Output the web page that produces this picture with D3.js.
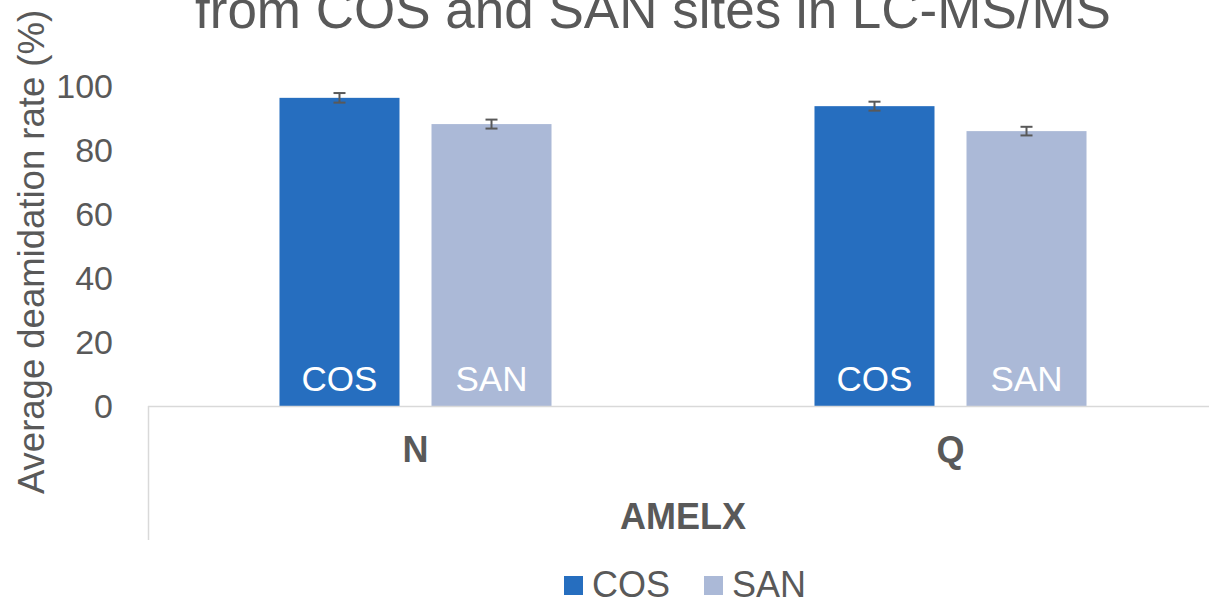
<!DOCTYPE html>
<html>
<head>
<meta charset="utf-8">
<script src="https://cdn.jsdelivr.net/npm/d3@7"></script>
<style>
  body { margin: 0; background: #fff; }
  svg text { font-family: "Liberation Sans", Arial, sans-serif; fill: #595959; }
</style>
</head>
<body>
<div id="chart"></div>
<script>
// data
const categories = ["N", "Q"];
const series = ["COS", "SAN"];
const cosValues = [96.3, 93.7];
const sanValues = [88.1, 85.9];
const cosErrors = [1.5, 1.4];
const sanErrors = [1.4, 1.35];
const yTicks = [0, 20, 40, 60, 80, 100];
const colors = { COS: "#266ebf", SAN: "#abb9d7" };

const width = 1209, height = 603;

const svg = d3.select("#chart")
  .append("svg")
  .attr("width", width)
  .attr("height", height);

// scales
const x0 = d3.scaleBand()
  .domain(categories)
  .range([148, 1218]);

const x1 = d3.scaleBand()
  .domain(series)
  .range([0, x0.bandwidth()])
  .paddingInner(32 / 152)
  .paddingOuter(0.865);

const y = d3.scaleLinear()
  .domain([0, 100])
  .range([406, 86]);

// title (partly cut off at the top)
svg.append("text")
  .attr("x", 653)
  .attr("y", 28)
  .attr("text-anchor", "middle")
  .style("font-size", "53px")
  .text("from COS and SAN sites in LC-MS/MS");

// y tick labels
svg.append("g")
  .selectAll("text")
  .data(yTicks)
  .join("text")
  .attr("x", 113)
  .attr("y", d => y(d))
  .attr("dy", "0.35em")
  .attr("text-anchor", "end")
  .style("font-size", "34px")
  .text(d => d);

// y axis title
svg.append("text")
  .attr("transform", "translate(44,252) rotate(-90)")
  .attr("text-anchor", "middle")
  .style("font-size", "36.5px")
  .text("Average deamidation rate (%)");

// bars
const rows = categories.map((c, i) => ({
  cat: c,
  items: [
    { s: "COS", v: cosValues[i], e: cosErrors[i] },
    { s: "SAN", v: sanValues[i], e: sanErrors[i] }
  ]
}));

const groups = svg.append("g")
  .selectAll("g")
  .data(rows)
  .join("g")
  .attr("transform", d => "translate(" + x0(d.cat) + ",0)");

groups.selectAll("rect")
  .data(d => d.items)
  .join("rect")
  .attr("x", d => x1(d.s))
  .attr("width", x1.bandwidth())
  .attr("y", d => y(d.v))
  .attr("height", d => y(0) - y(d.v))
  .attr("fill", d => colors[d.s]);

// labels inside bars
groups.selectAll("text.inlabel")
  .data(d => d.items)
  .join("text")
  .attr("class", "inlabel")
  .attr("x", d => x1(d.s) + x1.bandwidth() / 2)
  .attr("y", 391)
  .attr("text-anchor", "middle")
  .style("font-size", "35px")
  .style("fill", "#fff")
  .text(d => d.s);

// error bars
const errG = groups.selectAll("g.err")
  .data(d => d.items)
  .join("g")
  .attr("class", "err")
  .attr("stroke", "#595959")
  .attr("stroke-width", 2);

errG.append("line")
  .attr("x1", d => x1(d.s) + x1.bandwidth() / 2)
  .attr("x2", d => x1(d.s) + x1.bandwidth() / 2)
  .attr("y1", d => y(d.v + d.e))
  .attr("y2", d => y(d.v - d.e));

[1, -1].forEach(sign => {
  errG.append("line")
    .attr("x1", d => x1(d.s) + x1.bandwidth() / 2 - 6)
    .attr("x2", d => x1(d.s) + x1.bandwidth() / 2 + 6)
    .attr("y1", d => y(d.v + sign * d.e))
    .attr("y2", d => y(d.v + sign * d.e));
});

// category axis lines
svg.append("line")
  .attr("x1", 148).attr("x2", width)
  .attr("y1", y(0) + 0.5).attr("y2", y(0) + 0.5)
  .attr("stroke", "#d9d9d9")
  .attr("stroke-width", 1.5);

svg.append("line")
  .attr("x1", 148.5).attr("x2", 148.5)
  .attr("y1", y(0)).attr("y2", 540)
  .attr("stroke", "#d9d9d9")
  .attr("stroke-width", 1.5);

// category labels
svg.append("g")
  .selectAll("text")
  .data(categories)
  .join("text")
  .attr("x", d => x0(d) + x0.bandwidth() / 2)
  .attr("y", 462)
  .attr("text-anchor", "middle")
  .style("font-size", "36px")
  .style("font-weight", "bold")
  .text(d => d);

svg.append("text")
  .attr("x", (x0.range()[0] + x0.range()[1]) / 2)
  .attr("y", 529)
  .attr("text-anchor", "middle")
  .style("font-size", "36px")
  .style("font-weight", "bold")
  .text("AMELX");

// legend
const legendX = [564, 704];
const legend = svg.append("g")
  .selectAll("g")
  .data(series)
  .join("g")
  .attr("transform", (d, i) => "translate(" + legendX[i] + ",576)");

legend.append("rect")
  .attr("width", 19)
  .attr("height", 19)
  .attr("fill", d => colors[d]);

legend.append("text")
  .attr("x", 28)
  .attr("y", 20.5)
  .style("font-size", "36px")
  .text(d => d);
</script>
</body>
</html>
